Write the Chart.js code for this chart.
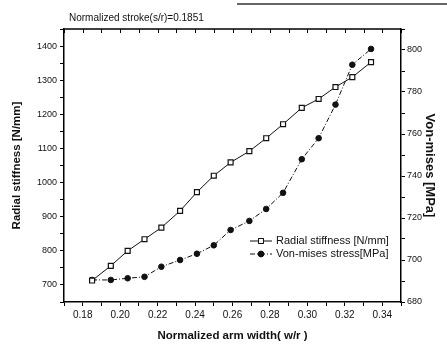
<!DOCTYPE html>
<html>
<head>
<meta charset="utf-8">
<script src="https://cdn.jsdelivr.net/npm/chart.js@4.4.1/dist/chart.umd.min.js"></script>
<style>
  body { margin: 0; background: #fff; }
  #wrap { width: 447px; height: 347px; position: relative; }
</style>
</head>
<body>
<div id="wrap"><canvas id="stiffChart"></canvas></div>
<script>
// values
const widthRatio = [0.185, 0.195, 0.204, 0.213, 0.222, 0.232, 0.241, 0.250, 0.259, 0.269, 0.278, 0.287, 0.297, 0.306, 0.315, 0.324, 0.334];
const radialStiffness = [713, 756, 800, 834, 868, 917, 972, 1020, 1059, 1092, 1130, 1171, 1219, 1245, 1280, 1309, 1353];
const vonMises = [690.5, 690.5, 691.3, 692, 696.8, 700, 703, 707, 714.3, 718.6, 724.3, 732, 748, 758, 774, 793, 800.5];
const seriesLabels = ['Radial stiffness [N/mm]', 'Von-mises stress[MPa]'];
const topNote = 'Normalized stroke(s/r)=0.1851';

Chart.defaults.font.family = '"Liberation Sans", Arial, sans-serif';
Chart.defaults.color = '#111';

const ctx = document.getElementById('stiffChart').getContext('2d');

// frame bits Chart.js has no option for: inward top ticks, note, legend inside plot
const framePlugin = {
    id: 'frame',
    afterDraw(chart) {
        const { ctx, chartArea: a, scales } = chart;
        const x = scales.x;
        ctx.save();
        // scan line at the very top
        ctx.strokeStyle = '#333';
        ctx.lineWidth = 1.5;
        ctx.beginPath();
        ctx.moveTo(237, 4);
        ctx.lineTo(447, 4);
        ctx.stroke();
        // top border + ticks pointing in
        ctx.strokeStyle = '#000';
        ctx.lineWidth = 1.5;
        ctx.beginPath();
        ctx.moveTo(a.left, a.top);
        ctx.lineTo(a.right, a.top);
        ctx.stroke();
        ctx.lineWidth = 1;
        x.ticks.forEach((t) => {
            const px = Math.round(x.getPixelForValue(t.value)) + 0.5;
            ctx.beginPath();
            ctx.moveTo(px, a.top);
            ctx.lineTo(px, a.top + 4);
            ctx.stroke();
        });
        // note above the plot
        ctx.fillStyle = '#111';
        ctx.font = '10px "Liberation Sans", Arial, sans-serif';
        ctx.textBaseline = 'middle';
        ctx.textAlign = 'left';
        ctx.fillText(topNote, a.left + 5, 18);
        // legend
        ctx.font = '11px "Liberation Sans", Arial, sans-serif';
        chart.data.datasets.forEach((ds, i) => {
            const y = a.top + 212 + i * 13;
            const x0 = a.left + 186;
            ctx.strokeStyle = ds.borderColor;
            ctx.lineWidth = 1;
            ctx.setLineDash(ds.borderDash || []);
            ctx.beginPath();
            ctx.moveTo(x0, y);
            ctx.lineTo(x0 + 22, y);
            ctx.stroke();
            ctx.setLineDash([]);
            Chart.helpers.drawPoint(ctx, {
                pointStyle: ds.pointStyle,
                radius: ds.pointRadius,
                borderWidth: 1
            }, x0 + 11, y);
            ctx.fillStyle = ds.pointBackgroundColor;
            ctx.strokeStyle = ds.pointBorderColor;
            Chart.helpers.drawPoint(ctx, {
                pointStyle: ds.pointStyle,
                radius: ds.pointRadius,
                borderWidth: 1
            }, x0 + 11, y);
            ctx.fillStyle = '#111';
            ctx.fillText(ds.label, x0 + 26, y);
        });
        ctx.restore();
    }
};

const stiffChart = new Chart(ctx, {
    type: 'line',
    data: {
        datasets: [{
            label: seriesLabels[0],
            data: widthRatio.map((w, i) => ({ x: w, y: radialStiffness[i] })),
            yAxisID: 'y',
            borderColor: '#111',
            borderWidth: 1,
            pointStyle: 'rect',
            pointRadius: 3.5,
            pointBackgroundColor: '#fff',
            pointBorderColor: '#111',
            pointBorderWidth: 1.2,
            tension: 0,
            fill: false
        }, {
            label: seriesLabels[1],
            data: widthRatio.map((w, i) => ({ x: w, y: vonMises[i] })),
            yAxisID: 'y1',
            borderColor: '#111',
            borderWidth: 1,
            borderDash: [5, 2, 1, 2],
            pointStyle: 'circle',
            pointRadius: 2.8,
            pointBackgroundColor: '#111',
            pointBorderColor: '#111',
            pointBorderWidth: 1,
            tension: 0,
            fill: false
        }]
    },
    options: {
        responsive: true,
        maintainAspectRatio: false,
        animation: false,
        devicePixelRatio: 1,
        layout: { padding: { top: 29, left: 0, right: 0, bottom: 0 } },
        plugins: {
            legend: { display: false },
            tooltip: { enabled: false }
        },
        scales: {
            x: {
                type: 'linear',
                position: 'bottom',
                min: 0.17,
                max: 0.35,
                afterFit: (s) => { s.height = 45; },
                border: { color: '#000', width: 1.5 },
                grid: { drawOnChartArea: false, tickLength: 4, tickColor: '#000' },
                ticks: {
                    stepSize: 0.01,
                    autoSkip: false,
                    maxRotation: 0,
                    padding: 3,
                    font: { size: 10 },
                    callback: (v) => {
                        const k = Math.round(v * 100);
                        return (k % 2 === 0 && k >= 18 && k <= 34) ? (k / 100).toFixed(2) : '';
                    }
                },
                title: {
                    display: true,
                    text: 'Normalized arm width( w/r )',
                    font: { size: 11.5, weight: 'bold' },
                    padding: { top: 0, bottom: 4 }
                }
            },
            y: {
                position: 'left',
                min: 650,
                max: 1450,
                afterFit: (s) => { s.width = 64; },
                border: { color: '#000', width: 1.5 },
                grid: { drawOnChartArea: false, tickLength: 4, tickColor: '#000' },
                ticks: {
                    stepSize: 50,
                    autoSkip: false,
                    padding: 3,
                    font: { size: 9 },
                    callback: (v) => (v % 100 === 0 && v >= 700 && v <= 1400) ? String(v) : ''
                },
                title: {
                    display: true,
                    text: 'Radial stiffness [N/mm]',
                    font: { size: 11.5, weight: 'bold' },
                    padding: { top: 10, bottom: 0 }
                }
            },
            y1: {
                position: 'right',
                min: 680,
                max: 810,
                afterFit: (s) => { s.width = 46; },
                border: { color: '#000', width: 1.5 },
                grid: { drawOnChartArea: false, tickLength: 4, tickColor: '#000' },
                ticks: {
                    stepSize: 10,
                    autoSkip: false,
                    padding: 2,
                    font: { size: 9 },
                    callback: (v) => (v % 20 === 0 && v <= 800) ? String(v) : ''
                },
                title: {
                    display: true,
                    text: 'Von-mises [MPa]',
                    font: { size: 13, weight: 'bold' },
                    padding: { top: 10, bottom: 0 }
                }
            }
        }
    },
    plugins: [framePlugin]
});
</script>
</body>
</html>
